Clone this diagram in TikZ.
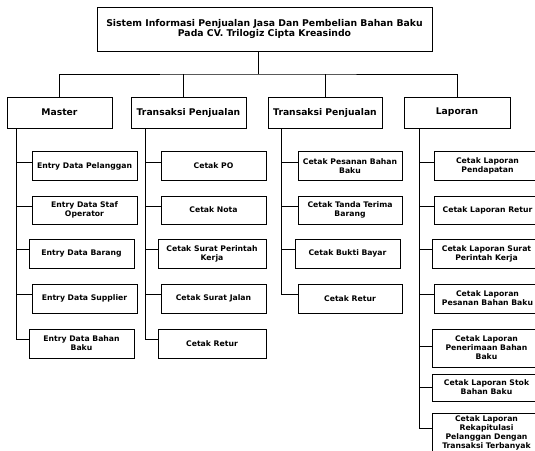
\documentclass[tikz,border=0pt]{standalone}
\usepackage{fontspec}
\setmainfont{DejaVu Sans}

\tikzset{
  judul/.style={draw, line width=1pt, align=center, inner sep=0pt,
    minimum width=335pt, minimum height=44pt,
    font=\fontsize{9.3}{10.2}\selectfont\bfseries},
  menu/.style={draw, line width=1pt, align=center, inner sep=0pt,
    minimum height=31pt, font=\fontsize{9.2}{10.5}\selectfont\bfseries},
  submenu/.style={draw, line width=1pt, align=center, inner sep=0pt,
    minimum width=105pt, minimum height=29pt,
    font=\fontsize{7.7}{9}\selectfont\bfseries},
  garis/.style={line width=1pt}
}

\begin{document}
\begin{tikzpicture}[x=1pt,y=-1pt]

\useasboundingbox (0,0) rectangle (535,450);

%% Judul sistem
\node [judul] (sistem) at (264.5,29) {Sistem Informasi Penjualan Jasa Dan Pembelian Bahan Baku\\Pada CV. Trilogiz Cipta Kreasindo};

%% Menu utama
\node [menu, minimum width=105pt] (master) at (59.5,112.5) {Master};
\node [menu, minimum width=115pt] (jual) at (188.5,112.5) {Transaksi Penjualan};
\node [menu, minimum width=114pt] (beli) at (325,112.5) {Transaksi Penjualan};
\node [menu, minimum width=106pt] (laporan) at (457,112.5) {Laporan};

\coordinate (cabang) at (258,74);
\coordinate (jualatas) at ([xshift=-5.5pt]jual.north);
\draw [garis] (sistem.south -| cabang) -- (cabang);
\draw [garis] (master.north) |- (cabang) -| (laporan.north);
\draw [garis] (jualatas) -- (jualatas |- cabang);
\draw [garis] (beli.north) -- (beli.north |- cabang);

%% Master
\node [submenu] (m1) at (84.5,166) {Entry Data Pelanggan};
\node [submenu, minimum height=28pt] (m2) at (84.5,210) {Entry Data Staf\\Operator};
\node [submenu] (m3) at (81.5,253.5) {Entry Data Barang};
\node [submenu] (m4) at (84.5,298.5) {Entry Data Supplier};
\node [submenu] (m5) at (81.5,343.5) {Entry Data Bahan\\Baku};

%% Transaksi penjualan
\node [submenu] (j1) at (213.5,166) {Cetak PO};
\node [submenu, minimum height=28pt] (j2) at (213.5,210) {Cetak Nota};
\node [submenu, minimum width=108pt] (j3) at (212,253.5) {Cetak Surat Perintah\\Kerja};
\node [submenu] (j4) at (213.5,298.5) {Cetak Surat Jalan};
\node [submenu, minimum width=108pt] (j5) at (212,343.5) {Cetak Retur};

%% Transaksi penjualan (kedua)
\node [submenu, minimum width=104pt] (b1) at (350,166) {Cetak Pesanan Bahan\\Baku};
\node [submenu, minimum width=104pt, minimum height=28pt] (b2) at (350,210) {Cetak Tanda Terima\\Barang};
\node [submenu] (b3) at (347.5,253.5) {Cetak Bukti Bayar};
\node [submenu, minimum width=104pt] (b4) at (350,298.5) {Cetak Retur};

%% Laporan
\node [submenu, minimum width=107pt] (l1) at (487.5,166) {Cetak Laporan\\Pendapatan};
\node [submenu, minimum width=107pt, minimum height=28pt] (l2) at (487.5,210) {Cetak Laporan Retur};
\node [submenu, minimum width=109pt] (l3) at (486.5,253.5) {Cetak Laporan Surat\\Perintah Kerja};
\node [submenu, minimum width=107pt] (l4) at (487.5,298.5) {Cetak Laporan\\Pesanan Bahan Baku};
\node [submenu, minimum width=109pt, minimum height=38pt] (l5) at (486.5,348) {Cetak Laporan\\Penerimaan Bahan\\Baku};
\node [submenu, minimum width=109pt, minimum height=27pt] (l6) at (486.5,387.5) {Cetak Laporan Stok\\Bahan Baku};
\node [submenu, minimum width=109pt, minimum height=40pt] (l7) at (486.5,433) {Cetak Laporan\\Rekapitulasi\\Pelanggan Dengan\\Transaksi Terbanyak};

%% Garis ke submenu
\coordinate (masterkaki) at ([xshift=10pt]master.south west);
\coordinate (jualkaki) at ([xshift=15pt]jual.south west);
\coordinate (belikaki) at ([xshift=14pt]beli.south west);
\coordinate (laporankaki) at ([xshift=16pt]laporan.south west);

\foreach \n in {m1,m2,m3,m4,m5}
  \draw [garis] (masterkaki) |- ([yshift=4pt]\n.west);
\foreach \n in {j1,j2,j3,j4,j5}
  \draw [garis] (jualkaki) |- ([yshift=4pt]\n.west);
\foreach \n in {b1,b2,b3,b4}
  \draw [garis] (belikaki) |- ([yshift=4pt]\n.west);
\foreach \n/\s in {l1/4,l2/4,l3/4,l4/4,l5/2,l6/0,l7/5}
  \draw [garis] (laporankaki) |- ([yshift=\s pt]\n.west);

\end{tikzpicture}
\end{document}
